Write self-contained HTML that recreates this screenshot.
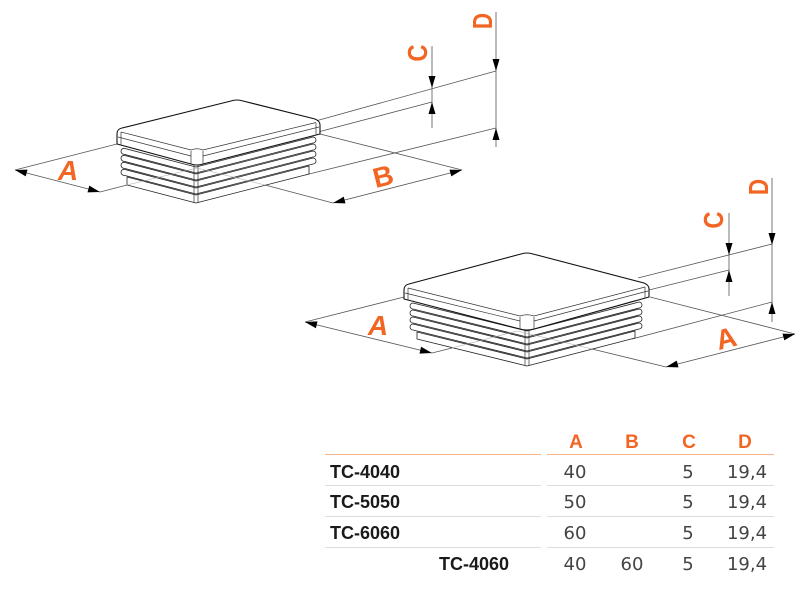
<!DOCTYPE html>
<html>
<head>
<meta charset="utf-8">
<style>
  html,body{margin:0;padding:0;background:#fff;}
  svg{display:block;}
  .dim{stroke:#555;stroke-width:0.8;fill:none;}
  .hid{stroke:#aaa;stroke-width:0.6;fill:none;}
  .obj{stroke:#222;stroke-width:0.8;fill:#fff;stroke-linejoin:round;}
  .ln{stroke:#333;stroke-width:0.7;fill:none;}
  .sil{stroke:#111;stroke-width:1.1;fill:#fff;stroke-linejoin:round;}
  .arr{fill:#000;stroke:none;}
  .lbl{font-family:"Liberation Sans",sans-serif;font-weight:bold;font-size:28px;fill:#f26522;}
  .hdr{font-family:"Liberation Sans",sans-serif;font-weight:bold;font-size:19px;fill:#f26522;}
  .code{font-family:"Liberation Sans",sans-serif;font-weight:bold;font-size:18px;fill:#1a1a1a;}
  .num{font-family:"DejaVu Sans ExtraLight","DejaVu Sans","Liberation Sans",sans-serif;font-size:18px;fill:#444;}
</style>
</head>
<body>
<svg width="800" height="599" viewBox="0 0 800 599" xmlns="http://www.w3.org/2000/svg">
  <!-- ================= TOP OBJECT: dimension lines ================= -->
  <line class="dim" x1="15" y1="170" x2="100" y2="192"/>
  <line class="dim" x1="15" y1="170" x2="117" y2="144"/>
  <line class="dim" x1="100" y1="192" x2="127" y2="185"/>
  <line class="dim" x1="333" y1="203" x2="462" y2="170"/>
  <line class="dim" x1="320" y1="134" x2="462" y2="170"/>
  <line class="dim" x1="333" y1="203" x2="265" y2="185"/>
  <line class="dim" x1="312" y1="122" x2="496" y2="71"/>
  <line class="dim" x1="318" y1="132" x2="432" y2="102"/>
  <line class="dim" x1="432" y1="46" x2="432" y2="128"/>
  <line class="dim" x1="496" y1="12" x2="496" y2="147"/>
  <line class="dim" x1="305" y1="175" x2="496" y2="128"/>

  <!-- body ribs (top object) -->
  <path class="obj" d="M196,195 L127,177 L127,185 L196,203 L309,174 L309,166 Z"/>
  <path class="obj" d="M196,188 L124,169.3 A3,3 0 0 0 124,175.3 L196,194 L313,164 A3,3 0 0 0 313,158 Z"/>
  <path class="obj" d="M196,181 L124,162.3 A3,3 0 0 0 124,168.3 L196,187 L313,157 A3,3 0 0 0 313,151 Z"/>
  <path class="obj" d="M196,174 L124,155.3 A3,3 0 0 0 124,161.3 L196,180 L313,150 A3,3 0 0 0 313,144 Z"/>
  <path class="obj" d="M196,167 L124,148.3 A3,3 0 0 0 124,154.3 L196,173 L313,143 A3,3 0 0 0 313,137 Z"/>
  <line class="ln" x1="194" y1="165" x2="194" y2="203"/>
  <line class="ln" x1="198" y1="165" x2="198" y2="203"/>

  <!-- cap (top object) -->
  <path class="sil" d="M117,144 L117,134 Q117,129 122,128 L231,101 Q237,99 243,101 L315,119 Q320,121 320,125 L320,134 L203,164 Q197,166 191,164 Z"/>
  <path class="ln" d="M121,132 L191,150 Q197,147.5 203,150 L316,122.5"/>
  <path class="ln" d="M118,137 L191,156"/>
  <path class="ln" d="M203,156 L319,127"/>
  <line class="ln" x1="191" y1="151" x2="191" y2="164"/>
  <line class="ln" x1="203" y1="151" x2="203" y2="164"/>
  <line class="ln" x1="121" y1="132" x2="121" y2="145"/>
  <line class="ln" x1="316" y1="123" x2="316" y2="135"/>

  <!-- hidden lines -->
  <polyline class="hid" points="127,185 197,168 265,185"/>

  <!-- arrows top object -->
  <polygon class="arr" points="15,170 27.5,169.6 25.7,176.4"/>
  <polygon class="arr" points="100,192 89.3,185.6 87.5,192.4"/>
  <polygon class="arr" points="333,203 345.5,203.4 343.7,196.6"/>
  <polygon class="arr" points="462,170 451.3,176.4 449.5,169.6"/>
  <polygon class="arr" points="432,88 428.5,76 435.5,76"/>
  <polygon class="arr" points="432,102 428.5,114 435.5,114"/>
  <polygon class="arr" points="496,71 492.5,59 499.5,59"/>
  <polygon class="arr" points="496,128 492.5,140 499.5,140"/>

  <!-- labels top object -->
  <text class="lbl" x="68" y="180" text-anchor="middle" font-style="italic">A</text>
  <text class="lbl" text-anchor="middle" transform="translate(383,176) rotate(-14)" x="0" y="10">B</text>
  <text class="lbl" text-anchor="middle" transform="translate(417,53) rotate(-90) scale(0.85,1)" x="0" y="10">C</text>
  <text class="lbl" text-anchor="middle" transform="translate(482,21) rotate(-90) scale(0.8,1)" x="0" y="10">D</text>

  <!-- ================= BOTTOM OBJECT: dimension lines ================= -->
  <line class="dim" x1="305" y1="322" x2="432" y2="353"/>
  <line class="dim" x1="305" y1="322" x2="404" y2="297"/>
  <line class="dim" x1="432" y1="353" x2="452" y2="348"/>
  <line class="dim" x1="666" y1="367" x2="795" y2="334"/>
  <line class="dim" x1="650" y1="297" x2="795" y2="334"/>
  <line class="dim" x1="666" y1="367" x2="592" y2="349"/>
  <line class="dim" x1="638" y1="278" x2="772" y2="244"/>
  <line class="dim" x1="645" y1="291" x2="729" y2="270"/>
  <line class="dim" x1="729" y1="213" x2="729" y2="296"/>
  <line class="dim" x1="772" y1="178" x2="772" y2="322"/>
  <line class="dim" x1="632" y1="339" x2="772" y2="302"/>

  <!-- body ribs (bottom object) -->
  <path class="obj" d="M527,359 L417,332 L417,339 L527,366 L635,338 L635,331 Z"/>
  <path class="obj" d="M527,352 L413,324 A3,3 0 0 0 413,330 L527,358 L639,329 A3,3 0 0 0 639,323 Z"/>
  <path class="obj" d="M527,345 L413,317 A3,3 0 0 0 413,323 L527,351 L639,322 A3,3 0 0 0 639,316 Z"/>
  <path class="obj" d="M527,338 L413,310 A3,3 0 0 0 413,316 L527,344 L639,315 A3,3 0 0 0 639,309 Z"/>
  <path class="obj" d="M527,331 L413,303 A3,3 0 0 0 413,309 L527,337 L639,308 A3,3 0 0 0 639,302 Z"/>
  <line class="ln" x1="525" y1="330" x2="525" y2="366"/>
  <line class="ln" x1="529" y1="330" x2="529" y2="366"/>

  <!-- cap (bottom object) -->
  <path class="sil" d="M404,299 L404,290 Q404,285 409,284 L521,254 Q527,252 533,254 L644,283 Q649,285 649,289 L649,297 L534,329 Q527,331 520,329 Z"/>
  <path class="ln" d="M408,288 L520,316 Q527,313.5 534,316 L645,287"/>
  <path class="ln" d="M405,293 L520,321"/>
  <path class="ln" d="M534,321 L648,291"/>
  <line class="ln" x1="520" y1="317" x2="520" y2="329"/>
  <line class="ln" x1="534" y1="317" x2="534" y2="329"/>
  <line class="ln" x1="408" y1="288" x2="408" y2="300"/>
  <line class="ln" x1="645" y1="287" x2="645" y2="298"/>

  <!-- hidden lines -->
  <polyline class="hid" points="452,348 517,331 592,349"/>

  <!-- arrows bottom object -->
  <polygon class="arr" points="305,322 317.5,321.4 315.9,328.2"/>
  <polygon class="arr" points="432,353 421.1,346.8 419.5,353.6"/>
  <polygon class="arr" points="666,367 678.5,367.4 676.7,360.6"/>
  <polygon class="arr" points="795,334 784.3,340.4 782.5,333.6"/>
  <polygon class="arr" points="729,255 725.5,243 732.5,243"/>
  <polygon class="arr" points="729,270 725.5,282 732.5,282"/>
  <polygon class="arr" points="772,245 768.5,233 775.5,233"/>
  <polygon class="arr" points="772,302 768.5,314 775.5,314"/>

  <!-- labels bottom object -->
  <text class="lbl" x="378" y="335" text-anchor="middle" font-style="italic">A</text>
  <text class="lbl" text-anchor="middle" transform="translate(726,338) rotate(-14)" x="0" y="10">A</text>
  <text class="lbl" text-anchor="middle" transform="translate(713,220) rotate(-90) scale(0.85,1)" x="0" y="10">C</text>
  <text class="lbl" text-anchor="middle" transform="translate(758,187) rotate(-90) scale(0.8,1)" x="0" y="10">D</text>

  <!-- ================= TABLE ================= -->
  <text class="hdr" x="576" y="448" text-anchor="middle">A</text>
  <text class="hdr" x="632" y="448" text-anchor="middle">B</text>
  <text class="hdr" x="689" y="448" text-anchor="middle">C</text>
  <text class="hdr" x="745" y="448" text-anchor="middle">D</text>

  <line x1="325" y1="454.5" x2="541" y2="454.5" stroke="#f6b48b" stroke-width="1"/>
  <line x1="547" y1="454.5" x2="774" y2="454.5" stroke="#f6b48b" stroke-width="1"/>
  <line x1="325" y1="485.5" x2="541" y2="485.5" stroke="#dcdcdc" stroke-width="1"/>
  <line x1="547" y1="485.5" x2="774" y2="485.5" stroke="#dcdcdc" stroke-width="1"/>
  <line x1="325" y1="516.5" x2="541" y2="516.5" stroke="#dcdcdc" stroke-width="1"/>
  <line x1="547" y1="516.5" x2="774" y2="516.5" stroke="#dcdcdc" stroke-width="1"/>
  <line x1="325" y1="547.5" x2="541" y2="547.5" stroke="#dcdcdc" stroke-width="1"/>
  <line x1="547" y1="547.5" x2="774" y2="547.5" stroke="#dcdcdc" stroke-width="1"/>

  <text class="code" x="330" y="478">TC-4040</text>
  <text class="code" x="330" y="508">TC-5050</text>
  <text class="code" x="330" y="539">TC-6060</text>
  <text class="code" x="439" y="570">TC-4060</text>

  <text class="num" x="575" y="478" text-anchor="middle">40</text>
  <text class="num" x="688" y="478" text-anchor="middle">5</text>
  <text class="num" x="747" y="478" text-anchor="middle">19,4</text>

  <text class="num" x="575" y="508" text-anchor="middle">50</text>
  <text class="num" x="688" y="508" text-anchor="middle">5</text>
  <text class="num" x="747" y="508" text-anchor="middle">19,4</text>

  <text class="num" x="575" y="539" text-anchor="middle">60</text>
  <text class="num" x="688" y="539" text-anchor="middle">5</text>
  <text class="num" x="747" y="539" text-anchor="middle">19,4</text>

  <text class="num" x="575" y="570" text-anchor="middle">40</text>
  <text class="num" x="632" y="570" text-anchor="middle">60</text>
  <text class="num" x="688" y="570" text-anchor="middle">5</text>
  <text class="num" x="747" y="570" text-anchor="middle">19,4</text>
</svg>
</body>
</html>
